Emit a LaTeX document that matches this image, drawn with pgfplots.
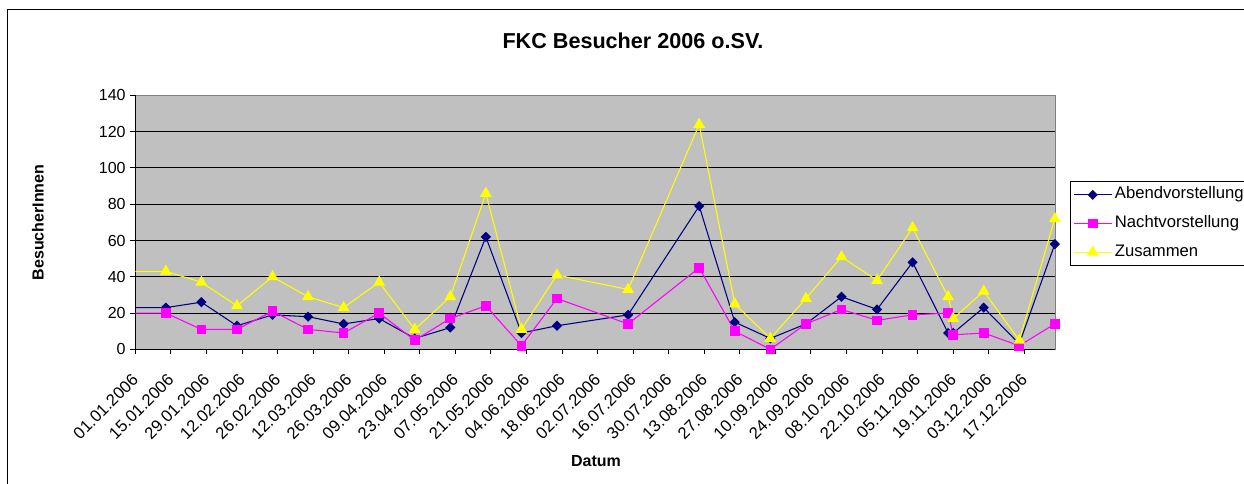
\documentclass[border=0pt]{standalone}
\usepackage{fontspec}
\setmainfont{Liberation Sans}
\usepackage{pgfplots}
\pgfplotsset{compat=1.18}
\usepackage{pgfplotstable}
\definecolor{abend}{HTML}{000080}
\definecolor{nacht}{HTML}{FF00FF}
\definecolor{zus}{HTML}{FFFF00}
\definecolor{plotbg}{HTML}{C0C0C0}
\definecolor{plotframe}{HTML}{808080}

% day = days after 01.01.2006
\pgfplotstableread{
day abend nacht zus
-2  23 20 43
12  23 20 43
26  26 11 37
40  13 11 24
54  19 21 40
68  18 11 29
82  14 9  23
96  17 20 37
110 6  5  11
124 12 17 29
138 62 24 86
152 9  2  11
166 13 28 41
194 19 14 33
222 79 45 124
236 15 10 25
250 6  0  6
264 14 14 28
278 29 22 51
292 22 16 38
306 48 19 67
320 9  20 29
322 9  8  17
334 23 9  32
348 3  2  5
362 58 14 72
}\besucher

\begin{document}
\begin{tikzpicture}
\draw[black, line width=0.75pt] (5.6pt,355.5pt) rectangle (1000pt,-30pt);
\begin{axis}[
  at={(101.5pt,101.0pt)}, anchor=south west,
  scale only axis, width=689.8pt, height=190.4pt,
  xmin=0, xmax=362.1, ymin=0, ymax=140,
  axis x line*=bottom, axis y line*=left,
  axis background/.style={fill=plotbg, draw=plotframe, line width=0.75pt},
  axis line style={black, line width=0.75pt, -},
  xtick={0,14,...,350},
  xticklabels={01.01.2006,15.01.2006,29.01.2006,12.02.2006,26.02.2006,12.03.2006,26.03.2006,09.04.2006,23.04.2006,07.05.2006,21.05.2006,04.06.2006,18.06.2006,02.07.2006,16.07.2006,30.07.2006,13.08.2006,27.08.2006,10.09.2006,24.09.2006,08.10.2006,22.10.2006,05.11.2006,19.11.2006,03.12.2006,17.12.2006},
  ytick={20,40,...,120},
  extra y ticks={0,140},
  extra y tick style={grid=none},
  ymajorgrids, major grid style={black, line width=0.75pt},
  tick align=outside, major tick length=3.75pt,
  tick style={black, line width=0.75pt},
  /pgf/number format/assume math mode=true,
  yticklabel style={font=\fontsize{12}{14}\selectfont},
  xticklabel style={font=\fontsize{12.5}{15}\selectfont, xshift=0pt, yshift=-17pt, rotate=45, anchor=east, inner sep=0pt},
  legend style={at={(axis description cs:1.0163,0.663)}, anchor=north west,
    draw=black, line width=0.75pt, fill=white, font=\fontsize{12.5}{15}\selectfont,
    inner sep=2pt, row sep=5.5pt,
    nodes={inner sep=2pt, text height=9pt, text depth=3pt}},
  legend cell align=left,
  legend image code/.code={\draw[mark repeat=2,mark phase=2] plot coordinates {(0cm,0cm) (0.5cm,0cm) (1cm,0cm)};},
]
\addplot[abend, line width=0.8pt, mark=diamond*, mark size=3.25pt, mark options={xscale=1.33, fill=abend, draw=abend}] table[x=day,y=abend]{\besucher};
\addlegendentry{Abendvorstellung}
\addplot[nacht, line width=0.8pt, mark=square*, mark size=3.2pt, mark options={fill=nacht, draw=nacht}] table[x=day,y=nacht]{\besucher};
\addlegendentry{Nachtvorstellung}
\addplot[zus, line width=0.8pt, mark=triangle*, mark size=4.3pt, mark options={fill=zus, draw=zus}] table[x=day,y=zus]{\besucher};
\addlegendentry{Zusammen}
\end{axis}
\node[font=\bfseries\fontsize{16.2}{19}\selectfont, anchor=base] at (474.75pt,326.8pt) {FKC Besucher 2006 o.SV.};
\node[font=\bfseries\fontsize{12}{14}\selectfont, rotate=90, anchor=center] at (28.5pt,196.2pt) {BesucherInnen};
\node[font=\bfseries\fontsize{12}{14}\selectfont, anchor=center] at (447pt,17.25pt) {Datum};
\pgfresetboundingbox
\path[use as bounding box] (0pt,0pt) rectangle (933pt,363pt);
\end{tikzpicture}
\end{document}
